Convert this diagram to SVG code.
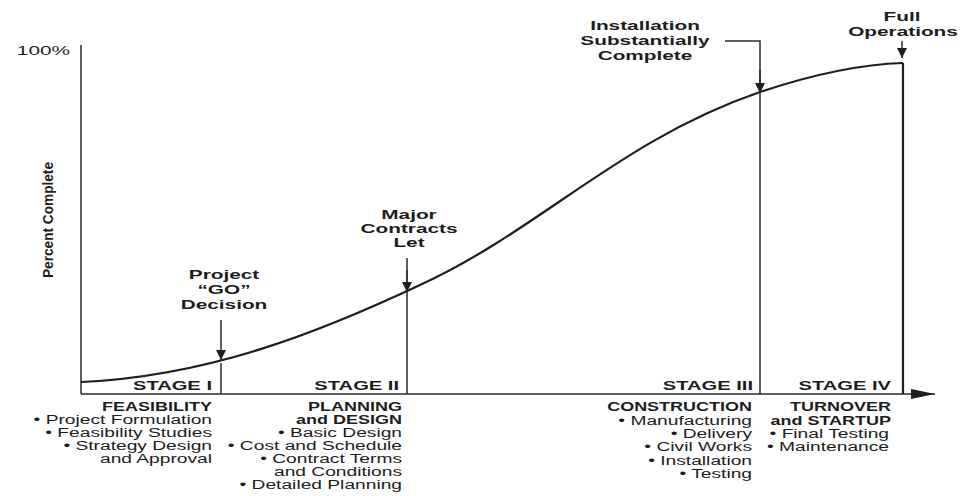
<svg xmlns="http://www.w3.org/2000/svg" width="962" height="496" viewBox="0 0 962 496">
<defs>
<style>
text { font-family: "Liberation Sans", Arial, sans-serif; fill: #1c1c1c; }
.lbl { font-weight: bold; font-size: 13px; text-anchor: middle; }
.stg { font-weight: bold; font-size: 13px; text-anchor: end; }
.hd { font-weight: bold; font-size: 12px; text-anchor: end; }
.it { font-size: 12px; text-anchor: end; }
.ln { stroke: #2a2a2a; fill: none; stroke-width: 1.5; }
.thk { stroke: #1e1e1e; fill: none; stroke-width: 2.2; }
</style>
<marker id="ah" viewBox="0 0 10 10" refX="10" refY="5" markerWidth="10" markerHeight="10" markerUnits="userSpaceOnUse" orient="auto">
<path d="M0,0 L10,5 L0,10 z" fill="#1e1e1e"/>
</marker>
<marker id="axh" viewBox="0 0 24 12" refX="24" refY="6" markerWidth="24" markerHeight="12" markerUnits="userSpaceOnUse" orient="auto">
<path d="M0,1 L24,6 L0,11 z" fill="#1e1e1e"/>
</marker>
</defs>
<rect width="962" height="496" fill="#ffffff"/>

<g id="axes">
<line class="ln" x1="81" y1="45" x2="81" y2="394"/>
<line class="ln" x1="81" y1="394" x2="935" y2="394" marker-end="url(#axh)"/>
<text transform="translate(70,55) scale(1.6,1)" style="font-size:13px;text-anchor:end">100%</text>
<text transform="translate(53,220) rotate(-90)" style="font-size:14px;font-weight:bold;text-anchor:middle" textLength="116" lengthAdjust="spacingAndGlyphs">Percent Complete</text>
</g>

<g id="s-curve">
<path class="thk" d="M81,382 C210,376 320,332 420,285 C540,230 620,140 760,92 C820,72 870,64 903,63"/>
</g>

<g id="connectors">
<line class="ln" x1="221" y1="363" x2="221" y2="394"/>
<line class="ln" x1="221" y1="320" x2="221" y2="360" marker-end="url(#ah)"/>
<line class="ln" x1="407" y1="258" x2="407" y2="394"/>
<line class="ln" x1="407" y1="270" x2="407" y2="292" marker-end="url(#ah)"/>
<polyline class="ln" points="725,41 760,41 760,394"/>
<line class="ln" x1="760" y1="70" x2="760" y2="93" marker-end="url(#ah)"/>
<line class="thk" x1="903" y1="63" x2="903" y2="394"/>
<line class="ln" x1="902" y1="41" x2="902" y2="58" marker-end="url(#ah)"/>
</g>

<g id="go-decision">
<text class="lbl" transform="translate(224,279) scale(1.6,1)">Project</text>
<text class="lbl" transform="translate(224,294) scale(1.6,1)">“GO”</text>
<text class="lbl" transform="translate(224,309) scale(1.6,1)">Decision</text>
</g>

<g id="major-contracts">
<text class="lbl" transform="translate(409,219) scale(1.6,1)">Major</text>
<text class="lbl" transform="translate(409,233) scale(1.6,1)">Contracts</text>
<text class="lbl" transform="translate(409,247) scale(1.6,1)">Let</text>
</g>

<g id="installation-complete">
<text class="lbl" transform="translate(645,30) scale(1.6,1)">Installation</text>
<text class="lbl" transform="translate(645,45) scale(1.6,1)">Substantially</text>
<text class="lbl" transform="translate(645,60) scale(1.6,1)">Complete</text>
</g>

<g id="full-operations">
<text class="lbl" transform="translate(902,21) scale(1.6,1)">Full</text>
<text class="lbl" transform="translate(903,36) scale(1.6,1)">Operations</text>
</g>

<g id="stage-1">
<text class="stg" transform="translate(212,390) scale(1.55,1)">STAGE I</text>
<text class="hd" transform="translate(212,411) scale(1.5,1)">FEASIBILITY</text>
<text class="it" transform="translate(212,424) scale(1.6,1)">• Project Formulation</text>
<text class="it" transform="translate(212,437) scale(1.6,1)">• Feasibility Studies</text>
<text class="it" transform="translate(212,450) scale(1.6,1)">• Strategy Design</text>
<text class="it" transform="translate(212,463) scale(1.6,1)">and Approval</text>
</g>

<g id="stage-2">
<text class="stg" transform="translate(399,390) scale(1.55,1)">STAGE II</text>
<text class="hd" transform="translate(402,411) scale(1.5,1)">PLANNING</text>
<text class="hd" transform="translate(402,424) scale(1.5,1)">and DESIGN</text>
<text class="it" transform="translate(402,437) scale(1.6,1)">• Basic Design</text>
<text class="it" transform="translate(402,450) scale(1.6,1)">• Cost and Schedule</text>
<text class="it" transform="translate(402,463) scale(1.6,1)">• Contract Terms</text>
<text class="it" transform="translate(402,476) scale(1.6,1)">and Conditions</text>
<text class="it" transform="translate(402,489) scale(1.6,1)">• Detailed Planning</text>
</g>

<g id="stage-3">
<text class="stg" transform="translate(753,390) scale(1.55,1)">STAGE III</text>
<text class="hd" transform="translate(752,411) scale(1.5,1)">CONSTRUCTION</text>
<text class="it" transform="translate(752,424.5) scale(1.6,1)">• Manufacturing</text>
<text class="it" transform="translate(752,438) scale(1.6,1)">• Delivery</text>
<text class="it" transform="translate(752,451) scale(1.6,1)">• Civil Works</text>
<text class="it" transform="translate(752,464.5) scale(1.6,1)">• Installation</text>
<text class="it" transform="translate(752,478) scale(1.6,1)">• Testing</text>
</g>

<g id="stage-4">
<text class="stg" transform="translate(891,390) scale(1.55,1)">STAGE IV</text>
<text class="hd" transform="translate(891,411) scale(1.5,1)">TURNOVER</text>
<text class="hd" transform="translate(891,424.5) scale(1.5,1)">and STARTUP</text>
<text class="it" transform="translate(889,438) scale(1.6,1)">• Final Testing</text>
<text class="it" transform="translate(889,451) scale(1.6,1)">• Maintenance</text>
</g>
</svg>
